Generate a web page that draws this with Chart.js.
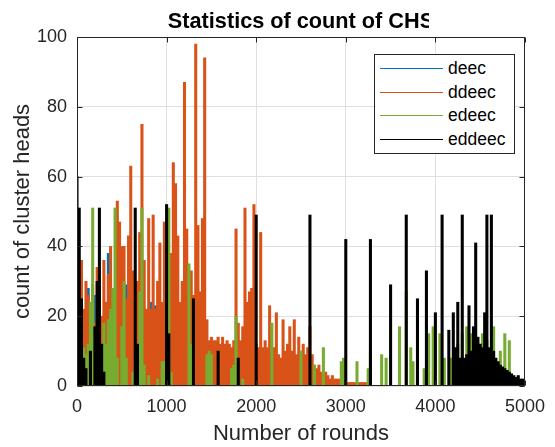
<!DOCTYPE html>
<html lang="en">
<head>
<meta charset="UTF-8">
<title>Statistics of count of CHS</title>
<script src="https://cdn.jsdelivr.net/npm/chart.js"></script>
<style>
  body { margin: 0; background: #fff; font-family: "Liberation Sans", Arial, sans-serif; }
  #wrap { position: relative; width: 555px; height: 447px; }
  #legend { position: absolute; left: 374px; top: 54px; width: 141px; height: 100px; box-sizing: border-box;
            border: 1px solid #262626; background: #fff; padding-top: 2px; }
  .item { display: flex; align-items: center; height: 23.5px; font-size: 17.5px; color: #000; }
  .item .line { display: inline-block; width: 63px; height: 0; border-top: 1.2px solid; margin: 0 5px 0 5px; }
</style>
</head>
<body>
<div id="wrap">
  <canvas id="chs" width="555" height="447"></canvas>
  <div id="legend"></div>
</div>
<script>
// x positions (rounds), one bar per 25 rounds
const rounds = Array.from({ length: 201 }, (_, i) => i * 25);

const deec = [
  15,12,14,18,20,28,12,14,26,15,
  15,12,14,18,38,15,14,12,16,14,
  12,15,29,12,14,12,15,13,12,14,
  12,14,13,24,12,23,14,22,12,14,
  12,14,20,12,14,12,14,12,13,14,
  12,4,10,8,6,5,7,3,5,4,
  5,5,6,4,3,2,3,2,3,1,
  2,1,0,0,0,0,0,0,0,0,
  0,0,0,0,0,0,0,0,0,0,
  0,0,0,0,0,0,0,0,0,0,
  0,0,0,0,0,0,0,0,0,0,
  0,0,0,0,0,0,0,0,0,0,
  0,0,0,0,0,0,0,0,0,0,
  0,0,0,0,0,0,0,0,0,0,
  0,0,0,0,0,0,0,0,0,0,
  0,0,0,0,0,0,0,0,0,0,
  0,0,0,0,0,0,0,0,0,0,
  0,0,0,0,0,0,0,0,0,0,
  0,0,0,0,0,0,0,0,0,0,
  0,0,0,0,0,0,0,0,0,0,
  0
];

const ddeec = [
  30,20,36,22,30,26,20,29,18,34,
  33,20,36,24,32,40,25,22,53,47,
  40,40,25,43,63,33,24,30,44,75,
  36,22,48,22,49,22,30,41,24,47,
  33,22,38,64,58,43,24,30,87,45,
  28,33,26,98,46,27,48,94,19,13,
  14,13,13,14,12,14,12,13,12,11,
  13,45,18,13,17,51,24,27,28,52,
  12,11,44,11,13,11,23,10,11,21,
  9,8,19,10,12,17,10,19,9,14,
  10,12,9,11,17,9,6,5,6,4,
  3,4,3,2,3,2,2,2,1,1,
  1,1,1,1,1,1,1,1,1,1,
  1,0,0,0,0,0,0,0,0,0,
  0,0,0,0,0,0,0,0,0,0,
  0,0,0,0,0,0,0,0,0,0,
  0,0,0,0,0,0,0,0,0,0,
  0,0,0,0,0,0,0,0,0,0,
  0,0,0,0,0,0,0,0,0,0,
  0,0,0,0,0,0,0,0,0,0,
  0
];

const edeec = [
  37,10,8,11,9,12,24,51,10,6,
  0,8,18,12,19,22,28,51,8,0,
  17,30,8,0,0,4,7,12,27,51,
  6,0,3,0,0,0,2,0,7,7,
  0,51,4,0,0,0,0,0,0,0,
  35,12,0,0,0,0,0,0,9,10,
  9,0,0,0,0,0,0,0,0,5,
  6,20,0,0,2,0,0,0,0,0,
  0,0,0,0,0,0,0,18,0,0,
  0,0,0,0,0,0,0,0,0,0,
  10,0,0,0,0,0,6,0,0,0,
  11,0,0,0,0,0,0,0,7,8,
  0,0,0,0,0,7,0,0,0,0,
  5,10,0,0,0,0,9,0,8,0,
  0,0,0,0,17,0,0,27,0,11,
  7,0,7,0,0,5,0,15,0,17,
  0,0,15,0,8,0,0,8,0,10,
  12,0,15,0,17,15,15,0,12,0,
  0,15,0,13,0,0,17,0,0,10,
  0,15,0,13,0,0,0,0,0,0,
  0
];

const eddeec = [
  60,51,25,8,5,0,10,0,17,30,
  51,12,4,0,0,0,0,0,0,0,
  0,0,0,0,0,0,51,12,0,0,
  0,0,0,0,0,0,0,0,0,0,
  52,15,0,0,0,0,0,0,0,0,
  0,0,25,0,0,0,0,0,0,0,
  0,0,0,10,0,0,0,0,0,0,
  0,0,8,0,0,0,0,0,0,0,
  49,0,0,0,0,0,0,0,0,0,
  0,0,0,0,0,0,0,0,0,0,
  0,0,0,0,49,0,0,0,0,0,
  0,0,0,0,0,0,0,0,0,0,
  42,0,0,0,0,0,0,0,0,0,
  0,42,0,0,0,0,0,0,0,0,
  29,0,0,0,0,0,0,49,0,0,
  0,0,25,0,0,0,33,0,0,0,
  21,0,0,49,0,0,16,0,21,11,
  24,8,49,8,9,23,10,17,41,14,
  12,11,21,49,11,49,10,8,7,6,
  5.5,5,4.5,4,3.5,3,2.5,3,2,2,
  1.5
];

const seriesNames = ['deec', 'ddeec', 'edeec', 'eddeec'];
const seriesValues = [deec, ddeec, edeec, eddeec];
const seriesColors = ['#0072BD', '#D95319', '#77AC30', '#000000'];
const xTicks = [0, 1000, 2000, 3000, 4000, 5000];
const yTicks = [0, 20, 40, 60, 80, 100];

const axisColor = '#262626';
const fontFamily = '"Liberation Sans", Arial, sans-serif';

// title + box + inward tick marks, drawn over the bars like matlab does
const matlabFrame = {
  id: 'matlabFrame',
  afterDatasetsDraw(chart) {
    const { ctx, chartArea: a, scales } = chart;
    const L = Math.round(a.left) + 0.5, R = Math.round(a.right) - 0.5;
    const T = Math.round(a.top) + 0.5, B = Math.round(a.bottom) - 0.5;
    ctx.save();
    ctx.strokeStyle = axisColor;
    ctx.lineWidth = 1;
    ctx.strokeRect(L, T, R - L, B - T);
    ctx.beginPath();
    xTicks.forEach(v => {
      const x = Math.round(scales.x.getPixelForValue(v)) + 0.5;
      ctx.moveTo(x, B); ctx.lineTo(x, B - 5);
      ctx.moveTo(x, T); ctx.lineTo(x, T + 5);
    });
    yTicks.forEach(v => {
      const y = Math.round(scales.y.getPixelForValue(v)) + 0.5;
      ctx.moveTo(L, y); ctx.lineTo(L + 5, y);
      ctx.moveTo(R, y); ctx.lineTo(R - 5, y);
    });
    ctx.stroke();
    ctx.restore();
  },
  afterDraw(chart) {
    const { ctx, chartArea: a } = chart;
    ctx.save();
    ctx.beginPath();
    ctx.rect(0, 0, 429, a.top);   // title is cut off in the original export
    ctx.clip();
    ctx.fillStyle = '#000';
    ctx.font = 'bold 21.7px ' + fontFamily;
    ctx.textAlign = 'center';
    ctx.textBaseline = 'alphabetic';
    ctx.fillText('Statistics of count of CHS', (a.left + a.right) / 2, 28);
    ctx.restore();
  }
};

const chart = new Chart(document.getElementById('chs'), {
  type: 'bar',
  data: {
    datasets: seriesNames.map((name, k) => ({
      label: name,
      data: rounds.map((r, i) => ({ x: r, y: seriesValues[k][i] })),
      backgroundColor: seriesColors[k],
      borderWidth: 0,
      grouped: false,
      barThickness: 2.4,
      order: 4 - k
    }))
  },
  options: {
    responsive: false,
    animation: false,
    devicePixelRatio: 1,
    layout: { padding: { top: 37, right: 23, left: 0, bottom: 0 } },
    plugins: {
      legend: { display: false },
      title: { display: false },
      tooltip: { enabled: false }
    },
    scales: {
      x: {
        type: 'linear',
        min: 0, max: 5000,
        offset: false,
        afterFit: s => { s.height = 61; },
        afterBuildTicks: s => { s.ticks = xTicks.map(v => ({ value: v })); },
        grid: { color: '#dfdfdf', drawTicks: false, offset: false },
        border: { display: false },
        ticks: { color: axisColor, font: { family: fontFamily, size: 18 }, padding: 10, maxRotation: 0,
                 callback: v => String(v) },
        title: { display: true, text: 'Number of rounds', color: axisColor,
                 font: { family: fontFamily, size: 22 }, padding: { top: 0, bottom: 0 } }
      },
      y: {
        min: 0, max: 100,
        afterFit: s => { s.width = 77; },
        afterBuildTicks: s => { s.ticks = yTicks.map(v => ({ value: v })); },
        grid: { color: '#dfdfdf', drawTicks: false },
        border: { display: false },
        ticks: { color: axisColor, font: { family: fontFamily, size: 18 }, padding: 10,
                 callback: v => String(v) },
        title: { display: true, text: 'count of cluster heads', color: axisColor,
                 font: { family: fontFamily, size: 22 }, padding: { top: 10, bottom: 0 } }
      }
    }
  },
  plugins: [matlabFrame]
});

// legend box built from the chart's datasets, in dataset order
const legendEl = document.getElementById('legend');
chart.data.datasets.forEach(ds => {
  const row = document.createElement('div');
  row.className = 'item';
  const line = document.createElement('span');
  line.className = 'line';
  line.style.borderTopColor = ds.backgroundColor;
  const txt = document.createElement('span');
  txt.textContent = ds.label;
  row.appendChild(line);
  row.appendChild(txt);
  legendEl.appendChild(row);
});
</script>
</body>
</html>
